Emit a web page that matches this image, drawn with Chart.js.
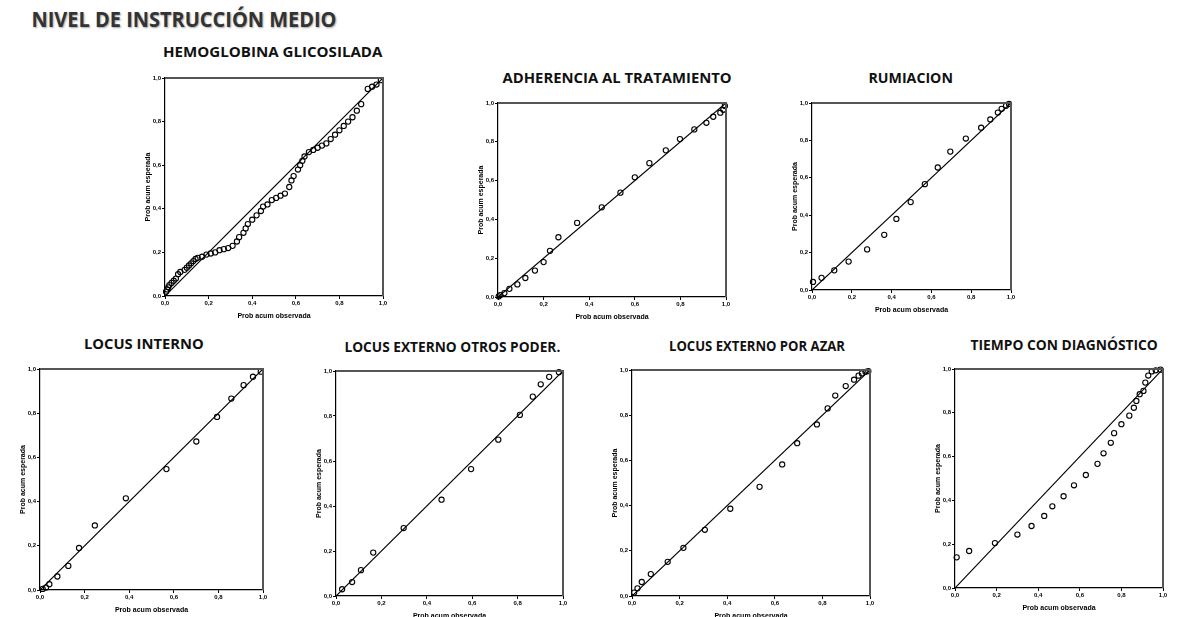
<!DOCTYPE html>
<html>
<head>
<meta charset="utf-8">
<script src="https://cdn.jsdelivr.net/npm/chart.js@4.4.0/dist/chart.umd.min.js"></script>
<style>
  html, body { margin: 0; padding: 0; background: #fff; }
  #page { position: relative; width: 1186px; height: 617px; overflow: hidden; }
  .ttl { position: absolute; white-space: nowrap; font-family: "Open Sans", sans-serif; font-weight: 700; color: #111; line-height: 1; }
  .main { color: #333; text-shadow: 1px 1px 2px rgba(0,0,0,0.35); }
  .panel { position: absolute; }
</style>
</head>
<body>
<div id="page"></div>
<script>
const mainTitle = 'NIVEL DE INSTRUCCIÓN MEDIO';
const panelTitles = ['HEMOGLOBINA GLICOSILADA', 'ADHERENCIA AL TRATAMIENTO', 'RUMIACION',
    'LOCUS INTERNO', 'LOCUS EXTERNO OTROS PODER.', 'LOCUS EXTERNO POR AZAR', 'TIEMPO CON DIAGNÓSTICO'];
const axisTicks = [0, 0.2, 0.4, 0.6, 0.8, 1.0];
const xTitle = 'Prob acum observada';
const yTitle = 'Prob acum esperada';

const hemoObs = [0.005,0.01,0.015,0.02,0.03,0.04,0.05,0.06,0.07,0.09,0.10,0.11,0.12,0.13,0.14,0.15,0.17,0.19,0.21,0.23,0.25,0.27,0.29,0.31,0.33,0.34,0.36,0.37,0.38,0.40,0.42,0.44,0.45,0.47,0.49,0.51,0.53,0.55,0.57,0.58,0.59,0.61,0.62,0.63,0.64,0.66,0.68,0.70,0.72,0.74,0.76,0.78,0.80,0.82,0.84,0.86,0.88,0.90,0.93,0.95,0.97,0.99];
const hemoEsp = [0.02,0.03,0.04,0.05,0.06,0.07,0.08,0.10,0.11,0.12,0.13,0.14,0.15,0.16,0.17,0.175,0.18,0.19,0.195,0.20,0.21,0.215,0.22,0.23,0.25,0.27,0.29,0.31,0.33,0.35,0.37,0.39,0.41,0.42,0.44,0.45,0.46,0.47,0.50,0.53,0.55,0.58,0.60,0.62,0.64,0.66,0.67,0.68,0.69,0.70,0.72,0.74,0.76,0.78,0.80,0.82,0.85,0.88,0.95,0.96,0.97,0.99];

const adhObs = [0.003,0.01,0.028,0.05,0.085,0.12,0.162,0.20,0.228,0.265,0.347,0.455,0.537,0.60,0.664,0.736,0.798,0.861,0.914,0.944,0.975,0.988,0.995];
const adhEsp = [0.003,0.01,0.02,0.042,0.065,0.098,0.136,0.18,0.238,0.308,0.382,0.462,0.538,0.617,0.69,0.756,0.814,0.864,0.898,0.929,0.95,0.965,0.985];

const rumObs = [0.005,0.048,0.112,0.184,0.277,0.363,0.424,0.496,0.567,0.632,0.695,0.773,0.85,0.896,0.934,0.953,0.975,0.99];
const rumEsp = [0.043,0.065,0.105,0.152,0.217,0.295,0.38,0.47,0.566,0.655,0.74,0.81,0.868,0.912,0.949,0.969,0.985,0.995];

const liObs = [0.012,0.027,0.042,0.078,0.127,0.175,0.246,0.385,0.567,0.701,0.794,0.858,0.913,0.955,0.99];
const liEsp = [0.005,0.011,0.026,0.061,0.109,0.19,0.292,0.415,0.547,0.672,0.783,0.866,0.927,0.965,0.988];

const leoObs = [0.027,0.071,0.11,0.164,0.298,0.465,0.595,0.715,0.81,0.867,0.902,0.939,0.982];
const leoEsp = [0.03,0.062,0.115,0.193,0.302,0.428,0.564,0.695,0.805,0.886,0.941,0.974,0.995];

const leaObs = [0.009,0.023,0.041,0.079,0.15,0.216,0.306,0.413,0.536,0.631,0.694,0.777,0.822,0.854,0.898,0.933,0.952,0.966,0.981,0.993];
const leaEsp = [0.015,0.034,0.062,0.097,0.151,0.213,0.293,0.386,0.483,0.582,0.676,0.759,0.83,0.887,0.929,0.957,0.975,0.985,0.992,0.995];

const tieObs = [0.008,0.068,0.192,0.30,0.368,0.429,0.468,0.522,0.572,0.629,0.685,0.714,0.749,0.765,0.80,0.838,0.86,0.872,0.888,0.906,0.915,0.929,0.946,0.965,0.988];
const tieEsp = [0.14,0.169,0.205,0.244,0.283,0.329,0.373,0.419,0.469,0.516,0.567,0.615,0.663,0.707,0.748,0.787,0.823,0.854,0.885,0.90,0.938,0.97,0.989,0.994,0.997];

const series = [[hemoObs, hemoEsp], [adhObs, adhEsp], [rumObs, rumEsp], [liObs, liEsp],
    [leoObs, leoEsp], [leaObs, leaEsp], [tieObs, tieEsp]];

// layout: plot box (left, top, right, bottom) and title (centre x, centre y, width)
const layout = [
    { box: [165, 78, 383, 296], title: [273, 52, 220] },
    { box: [498, 103, 726, 297], title: [617, 78, 229] },
    { box: [812, 103, 1011, 290], title: [910, 78, 84] },
    { box: [40, 369, 263, 590], title: [144, 344, 120] },
    { box: [336, 371, 563, 596], title: [452, 347, 216] },
    { box: [632, 370, 870, 596], title: [757, 346, 176] },
    { box: [955, 369, 1163, 588], title: [1064, 345, 187] }
];

const Y_W = 24, X_H = 24, PAD_T = 6, PAD_R = 6;
const page = document.getElementById('page');

function addTitle(text, cx, cy, w, size, cls) {
    const d = document.createElement('div');
    d.className = 'ttl ' + (cls || '');
    d.style.fontSize = size + 'px';
    d.textContent = text;
    page.appendChild(d);
    const s = w / d.offsetWidth;
    d.style.left = (cx - d.offsetWidth / 2) + 'px';
    d.style.top = (cy - d.offsetHeight / 2) + 'px';
    d.style.transform = `scaleX(${s})`;
}

const frame = {
    id: 'frame',
    afterDraw(chart) {
        const a = chart.chartArea, ctx = chart.ctx;
        ctx.save();
        ctx.strokeStyle = '#555';
        ctx.lineWidth = 2;
        ctx.beginPath();
        ctx.moveTo(a.left, a.top);
        ctx.lineTo(a.right, a.top);
        ctx.lineTo(a.right, a.bottom);
        ctx.stroke();
        ctx.restore();
    }
};

const fmt = v => v.toFixed(1).replace('.', ',');

function axis(title, fitKey, fitVal) {
    return {
        type: 'linear', min: 0, max: 1,
        afterBuildTicks: s => { s.ticks = axisTicks.map(v => ({ value: v })); },
        afterFit: s => { s[fitKey] = fitVal; },
        grid: { display: true, drawOnChartArea: false, drawTicks: true, tickLength: 3, color: '#000' },
        border: { display: true, color: '#000', width: 1.2 },
        ticks: { callback: fmt, padding: 1, color: '#000', maxRotation: 0, font: { family: 'Liberation Sans', size: 6, weight: 'bold' } },
        title: { display: true, text: title, color: '#000', padding: { top: 3, bottom: 0 }, font: { family: 'Liberation Sans', size: 7, weight: 'bold' } }
    };
}

addTitle(mainTitle, 184, 18, 305, 22, 'main');

series.forEach(([obs, esp], i) => {
    const [l, t, r, b] = layout[i].box;
    const [cx, cy, tw] = layout[i].title;
    addTitle(panelTitles[i], cx, cy, tw, 14);

    const div = document.createElement('div');
    div.className = 'panel';
    const w = (r - l) + Y_W + PAD_R, h = (b - t) + X_H + PAD_T;
    div.style.left = (l - Y_W) + 'px';
    div.style.top = (t - PAD_T) + 'px';
    div.style.width = w + 'px';
    div.style.height = h + 'px';
    const cv = document.createElement('canvas');
    div.appendChild(cv);
    page.appendChild(div);

    new Chart(cv, {
        type: 'scatter',
        data: {
            datasets: [{
                type: 'line',
                data: [{ x: 0, y: 0 }, { x: 1, y: 1 }],
                borderColor: '#000', borderWidth: 1.2, pointRadius: 0
            }, {
                data: obs.map((x, k) => ({ x, y: esp[k] })),
                pointStyle: 'circle', pointRadius: 2.6, pointBorderWidth: 1.1,
                borderColor: '#000', backgroundColor: 'rgba(0,0,0,0)', clip: false
            }]
        },
        options: {
            responsive: true, maintainAspectRatio: false, animation: false,
            layout: { padding: { top: PAD_T, right: PAD_R, left: 0, bottom: 0 } },
            plugins: { legend: { display: false }, tooltip: { enabled: false } },
            scales: {
                x: axis(xTitle, 'height', X_H),
                y: axis(yTitle, 'width', Y_W)
            }
        },
        plugins: [frame]
    });
});
</script>
</body>
</html>
